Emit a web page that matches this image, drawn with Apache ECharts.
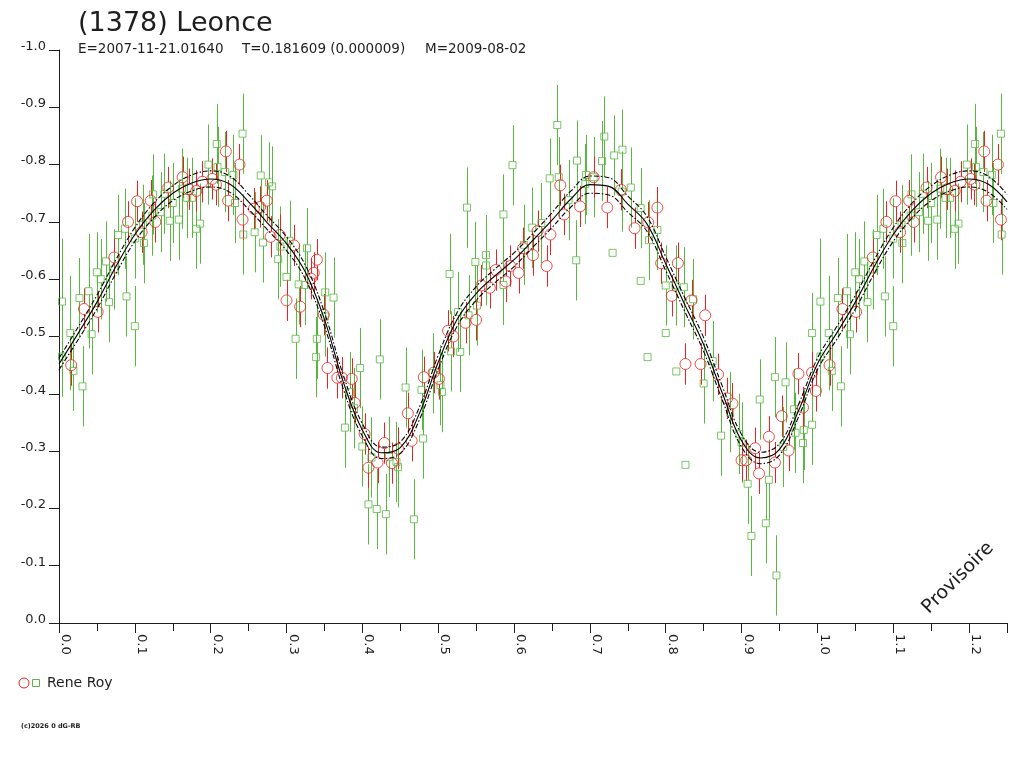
<!DOCTYPE html>
<html>
<head>
<meta charset="utf-8">
<script src="https://cdn.jsdelivr.net/npm/echarts@6/dist/echarts.min.js"></script>
<style>
  html, body { margin: 0; padding: 0; background: #fff; }
  #chart { width: 1024px; height: 768px; }
</style>
</head>
<body>
<div id="chart"></div>
<script>
// observations : [phase, magnitude, error] -- phases 0..1, repeated after 1.0 on the plot
var greenPoints = [
  [0.004,-0.561,0.11],[0.004,-0.465,0.07],[0.015,-0.506,0.10],[0.019,-0.440,0.07],[0.031,-0.413,0.07],
  [0.027,-0.567,0.07],[0.039,-0.579,0.10],[0.043,-0.504,0.07],[0.050,-0.612,0.07],[0.055,-0.600,0.07],
  [0.062,-0.631,0.07],[0.066,-0.560,0.07],[0.073,-0.617,0.07],[0.078,-0.677,0.07],[0.087,-0.688,0.07],
  [0.089,-0.570,0.07],[0.100,-0.518,0.07],[0.100,-0.671,0.07],[0.111,-0.695,0.07],[0.112,-0.663,0.07],
  [0.123,-0.711,0.07],[0.124,-0.748,0.07],[0.134,-0.717,0.07],[0.139,-0.749,0.07],[0.146,-0.702,0.07],
  [0.150,-0.733,0.07],[0.158,-0.704,0.07],[0.162,-0.758,0.07],[0.169,-0.742,0.07],[0.175,-0.742,0.07],
  [0.181,-0.688,0.07],[0.186,-0.697,0.07],[0.197,-0.800,0.07],[0.208,-0.836,0.07],[0.209,-0.796,0.07],
  [0.219,-0.787,0.07],[0.230,-0.782,0.07],[0.232,-0.733,0.07],[0.242,-0.854,0.07],[0.243,-0.678,0.07],
  [0.266,-0.781,0.07],[0.277,-0.769,0.07],[0.281,-0.762,0.07],[0.258,-0.682,0.07],[0.269,-0.664,0.07],
  [0.289,-0.635,0.07],[0.292,-0.657,0.07],[0.304,-0.667,0.07],[0.300,-0.604,0.07],[0.327,-0.654,0.07],
  [0.316,-0.591,0.07],[0.324,-0.590,0.07],[0.312,-0.496,0.07],[0.351,-0.577,0.07],[0.362,-0.568,0.07],
  [0.351,-0.535,0.07],[0.340,-0.496,0.07],[0.339,-0.464,0.07],[0.397,-0.445,0.07],[0.423,-0.460,0.07],
  [0.384,-0.403,0.07],[0.389,-0.375,0.07],[0.377,-0.341,0.07],[0.400,-0.308,0.07],[0.412,-0.289,0.07],
  [0.408,-0.207,0.07],[0.419,-0.199,0.07],[0.431,-0.190,0.07],[0.435,-0.290,0.07],[0.445,-0.281,0.07],
  [0.447,-0.272,0.07],[0.457,-0.411,0.07],[0.468,-0.181,0.07],[0.478,-0.407,0.07],[0.480,-0.322,0.07],
  [0.493,-0.436,0.07],[0.503,-0.415,0.07],[0.505,-0.403,0.07],
  [0.515,-0.609,0.07],[0.517,-0.474,0.07],[0.529,-0.473,0.07],[0.526,-0.543,0.07],[0.540,-0.537,0.07],
  [0.538,-0.725,0.07],[0.551,-0.554,0.07],[0.549,-0.630,0.07],[0.563,-0.642,0.07],[0.563,-0.624,0.07],
  [0.586,-0.590,0.07],[0.586,-0.713,0.07],[0.598,-0.799,0.07],[0.613,-0.660,0.07],[0.624,-0.690,0.07],
  [0.636,-0.698,0.07],[0.647,-0.776,0.07],[0.657,-0.869,0.07],[0.659,-0.778,0.07],[0.672,-0.738,0.07],
  [0.682,-0.633,0.07],[0.683,-0.807,0.07],[0.694,-0.766,0.07],[0.695,-0.782,0.07],[0.705,-0.778,0.07],
  [0.716,-0.806,0.07],[0.719,-0.849,0.07],[0.732,-0.816,0.07],[0.743,-0.826,0.07],[0.730,-0.646,0],
  [0.742,-0.753,0.07],[0.754,-0.760,0.07],
  [0.767,-0.724,0.07],[0.767,-0.597,0],[0.778,-0.668,0.07],[0.789,-0.686,0.07],[0.800,-0.589,0.07],
  [0.813,-0.589,0.07],[0.824,-0.586,0.07],[0.836,-0.565,0.07],[0.800,-0.506,0],[0.776,-0.464,0],
  [0.814,-0.439,0],[0.850,-0.418,0.07],[0.862,-0.457,0.07],[0.873,-0.327,0.07],[0.885,-0.368,0.07],
  [0.826,-0.276,0],[0.897,-0.330,0.07],[0.900,-0.315,0.07],[0.908,-0.243,0.07],[0.913,-0.152,0.07],
  [0.924,-0.390,0.07],[0.932,-0.174,0.07],[0.936,-0.250,0.07],[0.944,-0.429,0.07],[0.946,-0.083,0.07],
  [0.958,-0.420,0.07],[0.955,-0.307,0.07],[0.969,-0.373,0.07],[0.971,-0.332,0.07],[0.982,-0.337,0.07],
  [0.981,-0.314,0.07],[0.993,-0.506,0.07],[0.993,-0.346,0.07]
];

var redErr = 0.036;
var redPoints = [
  [0.016,-0.450],[0.033,-0.548],[0.051,-0.543],[0.073,-0.638],[0.091,-0.700],[0.103,-0.736],
  [0.109,-0.682],[0.121,-0.737],[0.127,-0.700],[0.144,-0.760],[0.163,-0.778],[0.171,-0.757],
  [0.181,-0.754],[0.189,-0.770],[0.202,-0.775],[0.207,-0.765],[0.220,-0.823],[0.223,-0.737],
  [0.238,-0.800],[0.242,-0.704],
  [0.257,-0.723],[0.265,-0.726],[0.274,-0.737],[0.279,-0.674],[0.291,-0.677],[0.310,-0.659],
  [0.300,-0.563],[0.318,-0.552],[0.340,-0.634],[0.336,-0.611],[0.332,-0.601],[0.349,-0.538],
  [0.354,-0.445],[0.367,-0.428],[0.373,-0.428],[0.386,-0.426],[0.390,-0.384],[0.403,-0.330],
  [0.408,-0.271],[0.420,-0.280],[0.429,-0.314],[0.439,-0.279],[0.447,-0.304],[0.460,-0.366],
  [0.465,-0.318],[0.481,-0.429],[0.494,-0.437],[0.501,-0.426],
  [0.513,-0.510],[0.520,-0.500],[0.536,-0.524],[0.550,-0.529],[0.557,-0.589],[0.568,-0.585],
  [0.576,-0.616],[0.589,-0.596],[0.595,-0.623],[0.606,-0.611],[0.612,-0.654],[0.625,-0.642],
  [0.631,-0.684],[0.643,-0.623],[0.648,-0.678],[0.661,-0.764],[0.666,-0.713],[0.687,-0.727],
  [0.705,-0.778],[0.723,-0.725],[0.741,-0.756],[0.759,-0.689],
  [0.789,-0.725],[0.777,-0.699],[0.794,-0.628],[0.816,-0.628],[0.808,-0.571],[0.834,-0.563],
  [0.852,-0.537],[0.826,-0.452],[0.846,-0.452],[0.869,-0.434],[0.881,-0.392],[0.888,-0.383],
  [0.900,-0.284],[0.906,-0.284],[0.918,-0.305],[0.923,-0.261],[0.936,-0.325],[0.944,-0.280],
  [0.953,-0.361],[0.962,-0.301],[0.975,-0.435],[0.981,-0.376],[0.993,-0.437],[0.998,-0.405]
];

// fitted light curve and its envelope, sampled every 0.025 in phase
var fitPhase = [0,0.025,0.05,0.075,0.1,0.125,0.15,0.175,0.2,0.225,0.25,0.275,0.3,0.325,0.35,0.375,0.4,
  0.425,0.45,0.475,0.5,0.525,0.55,0.575,0.6,0.625,0.65,0.675,0.7,0.725,0.75,0.775,0.8,0.825,0.85,
  0.875,0.9,0.925,0.95,0.975,1.0];
var fitMag = [-0.452,-0.505,-0.560,-0.622,-0.678,-0.720,-0.750,-0.768,-0.775,-0.766,-0.735,-0.698,
  -0.662,-0.612,-0.530,-0.420,-0.337,-0.297,-0.306,-0.365,-0.455,-0.530,-0.575,-0.606,-0.634,-0.668,
  -0.703,-0.740,-0.765,-0.762,-0.731,-0.697,-0.627,-0.556,-0.486,-0.400,-0.318,-0.288,-0.303,-0.370,-0.452];
var fitUpper = [-0.462,-0.516,-0.572,-0.634,-0.690,-0.733,-0.763,-0.782,-0.789,-0.780,-0.748,-0.710,
  -0.674,-0.624,-0.542,-0.432,-0.348,-0.307,-0.316,-0.376,-0.467,-0.542,-0.587,-0.618,-0.646,-0.680,
  -0.716,-0.754,-0.780,-0.777,-0.745,-0.710,-0.639,-0.568,-0.498,-0.412,-0.329,-0.298,-0.313,-0.381,-0.462];
var fitLower = [-0.442,-0.494,-0.548,-0.610,-0.666,-0.707,-0.737,-0.754,-0.761,-0.752,-0.722,-0.686,
  -0.650,-0.600,-0.518,-0.408,-0.326,-0.287,-0.296,-0.354,-0.443,-0.518,-0.563,-0.594,-0.622,-0.656,
  -0.690,-0.726,-0.750,-0.747,-0.717,-0.684,-0.615,-0.544,-0.474,-0.388,-0.307,-0.278,-0.293,-0.359,-0.442];

var xMax = 1.25;
var greenColor = '#58b840';
var redColor = '#ee2020';
var txt = '#1e1e1e';
var font = 'DejaVu Sans';

// the plot shows one extra quarter of phase: points below 0.25 come back after 1.0
function wrap(pts) {
  return pts.concat(pts.filter(function (p) { return p[0] > 0 && p[0] <= xMax - 1; })
    .map(function (p) { var q = p.slice(); q[0] = p[0] + 1; return q; }));
}
function curve(mags) {
  return wrap(fitPhase.map(function (p, i) { return [p, mags[i]]; }));
}

var green = wrap(greenPoints);
var red = wrap(redPoints.map(function (p) { return [p[0], p[1], redErr]; }));

function errorBars(data, color, gap) {
  return {
    type: 'custom',
    data: data,
    encode: { x: 0, y: 1 },
    clip: true,
    silent: true,
    renderItem: function (params, api) {
      var x = api.value(0), y = api.value(1), e = api.value(2);
      if (!e) return null;
      var top = api.coord([x, y - e]), mid = api.coord([x, y]), bot = api.coord([x, y + e]);
      var px = Math.round(mid[0]) + 0.5;
      var st = { stroke: color, lineWidth: 1 };
      return {
        type: 'group',
        children: [
          { type: 'line', shape: { x1: px, y1: top[1], x2: px, y2: mid[1] - gap }, style: st },
          { type: 'line', shape: { x1: px, y1: mid[1] + gap, x2: px, y2: bot[1] }, style: st }
        ]
      };
    }
  };
}

var chart = echarts.init(document.getElementById('chart'));
chart.setOption({
  animation: false,
  backgroundColor: '#fff',
  textStyle: { fontFamily: font },
  grid: { left: 59, right: 17, top: 50, bottom: 145 },
  xAxis: [{
    type: 'value', min: 0, max: xMax, interval: 0.05,
    axisLine: { lineStyle: { color: txt, width: 1 } },
    axisTick: { length: 8, lineStyle: { color: txt } },
    axisLabel: { show: false },
    splitLine: { show: false }
  }, {
    type: 'value', min: 0, max: xMax, interval: 0.1, position: 'bottom',
    axisLine: { show: false },
    axisTick: { length: 10, lineStyle: { color: txt } },
    axisLabel: {
      rotate: -90, margin: 11, fontSize: 13, color: txt, fontFamily: font,
      verticalAlign: 'bottom', lineHeight: 13,
      formatter: function (v) {
        return Math.round(v * 100) % 10 === 0 ? v.toFixed(1) : '';
      }
    },
    splitLine: { show: false }
  }],
  yAxis: {
    type: 'value', min: -1, max: 0, interval: 0.1, inverse: true,
    axisLine: { lineStyle: { color: txt, width: 1 } },
    axisTick: { length: 10, lineStyle: { color: txt } },
    axisLabel: {
      margin: 13, fontSize: 13, color: txt, fontFamily: font,
      verticalAlign: 'bottom', lineHeight: 7,
      formatter: function (v) { return v.toFixed(1); }
    },
    splitLine: { show: false }
  },
  series: [
    errorBars(green, greenColor, 3.5),
    {
      type: 'scatter', data: green, symbol: 'rect', symbolSize: 7, silent: true,
      itemStyle: { color: 'transparent', borderColor: greenColor, borderWidth: 1 }
    },
    errorBars(red, redColor, 5.5),
    {
      type: 'scatter', data: red, symbol: 'circle', symbolSize: 11, silent: true,
      itemStyle: { color: 'transparent', borderColor: redColor, borderWidth: 1 }
    },
    {
      type: 'line', data: curve(fitUpper), showSymbol: false, smooth: 0.4, silent: true,
      lineStyle: { color: '#000', width: 1.1, type: [5, 2, 1.5, 2] }
    },
    {
      type: 'line', data: curve(fitLower), showSymbol: false, smooth: 0.4, silent: true,
      lineStyle: { color: '#000', width: 1.1, type: [5, 2, 1.5, 2] }
    },
    {
      type: 'line', data: curve(fitMag), showSymbol: false, smooth: 0.4, silent: true,
      lineStyle: { color: '#000', width: 1.1 }
    }
  ],
  graphic: [
    { type: 'text', x: 78, y: 24, style: { text: '(1378) Leonce', font: '27px "DejaVu Sans"', fill: txt, verticalAlign: 'middle' } },
    { type: 'text', x: 78, y: 49, style: { text: 'E=2007-11-21.01640', font: '13.5px "DejaVu Sans"', fill: txt, verticalAlign: 'middle' } },
    { type: 'text', x: 242, y: 49, style: { text: 'T=0.181609 (0.000009)', font: '13.5px "DejaVu Sans"', fill: txt, verticalAlign: 'middle' } },
    { type: 'text', x: 425, y: 49, style: { text: 'M=2009-08-02', font: '13.5px "DejaVu Sans"', fill: txt, verticalAlign: 'middle' } },
    {
      type: 'text', x: 958, y: 578, rotation: Math.PI / 4,
      style: { text: 'Provisoire', font: '19px "DejaVu Sans"', fill: txt, align: 'center', verticalAlign: 'middle' }
    },
    { type: 'circle', shape: { cx: 24, cy: 683, r: 5 }, style: { fill: 'none', stroke: redColor, lineWidth: 1 } },
    { type: 'rect', shape: { x: 32.5, y: 679.5, width: 7, height: 7 }, style: { fill: 'none', stroke: greenColor, lineWidth: 1 } },
    { type: 'text', x: 47, y: 683, style: { text: 'Rene Roy', font: '14px "DejaVu Sans"', fill: txt, verticalAlign: 'middle' } },
    { type: 'text', x: 21, y: 726, style: { text: '(c)2026 0 dG-RB', font: 'bold 6.5px "DejaVu Sans"', fill: txt, verticalAlign: 'middle' } }
  ]
});
</script>
</body>
</html>
